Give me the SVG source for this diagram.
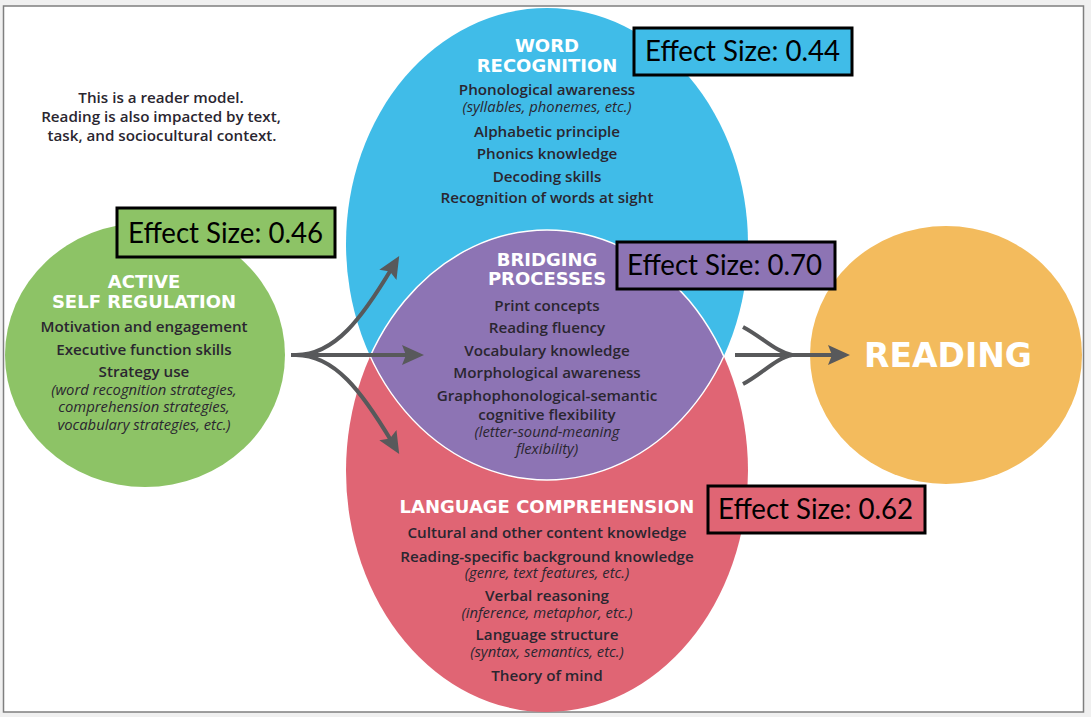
<svg xmlns="http://www.w3.org/2000/svg" width="1091" height="717" viewBox="0 0 1091 717">
  <style>
    .hd { font-family: "DejaVu Sans", "Liberation Sans", sans-serif; font-weight: 700; font-size: 18px; fill: #ffffff; text-anchor: middle; }
    .big { font-size: 33px; }
    .bd { font-family: "Open Sans", "Liberation Sans", sans-serif; font-weight: 600; font-size: 15.2px; fill: #2a2630; text-anchor: middle; }
    .it { font-family: "Open Sans", "Liberation Sans", sans-serif; font-style: italic; font-size: 14.8px; fill: #2a2630; text-anchor: middle; }
    .es { font-family: Lato, "Liberation Sans", sans-serif; font-size: 28px; fill: #000000; }
    .box { stroke: #000000; stroke-width: 3; }
    .arr { fill: none; stroke: #58595b; stroke-width: 4; }
  </style>
  <defs>
    <clipPath id="clipBlue"><ellipse cx="547" cy="244" rx="201" ry="236"/></clipPath>
    <clipPath id="clipRed"><ellipse cx="547" cy="471" rx="201" ry="241"/></clipPath>
    <marker id="ah" markerUnits="userSpaceOnUse" markerWidth="26" markerHeight="22" refX="8" refY="10" orient="auto">
      <path d="M0,0 L22,10 L0,20 L4,10 z" fill="#58595b"/>
    </marker>
  </defs>

  <rect x="0" y="0" width="1091" height="717" fill="#f0f0f0"/>
  <rect x="3.5" y="6" width="1080" height="706" fill="#ffffff" stroke="#7f7f7f" stroke-width="1.5"/>

  <g id="note">
    <text class="bd" x="161" y="103">This is a reader model.</text>
    <text class="bd" x="161" y="122">Reading is also impacted by text,</text>
    <text class="bd" x="162" y="141">task, and sociocultural context.</text>
  </g>

  <g id="word-recognition">
    <ellipse cx="547" cy="244" rx="201" ry="236" fill="#40bce8"/>
  </g>
  <g id="language-comprehension">
    <ellipse cx="547" cy="471" rx="201" ry="241" fill="#e06574"/>
  </g>
  <g id="bridging-processes">
    <g clip-path="url(#clipBlue)">
      <ellipse cx="547" cy="471" rx="201" ry="241" fill="#8d74b4" stroke="#ffffff" stroke-width="1.5"/>
    </g>
    <g clip-path="url(#clipRed)">
      <ellipse cx="547" cy="244" rx="201" ry="236" fill="none" stroke="#ffffff" stroke-width="1.5"/>
    </g>
  </g>

  <g id="word-recognition-text">
    <text class="hd" x="547" y="52">WORD</text>
    <text class="hd" x="547" y="72">RECOGNITION</text>
    <text class="bd" x="547" y="95">Phonological awareness</text>
    <text class="it" x="547" y="112">(syllables, phonemes, etc.)</text>
    <text class="bd" x="547" y="137">Alphabetic principle</text>
    <text class="bd" x="547" y="159">Phonics knowledge</text>
    <text class="bd" x="547" y="182">Decoding skills</text>
    <text class="bd" x="547" y="203">Recognition of words at sight</text>
  </g>

  <g id="bridging-text">
    <text class="hd" x="547" y="266">BRIDGING</text>
    <text class="hd" x="547" y="285">PROCESSES</text>
    <text class="bd" x="547" y="311">Print concepts</text>
    <text class="bd" x="547" y="333">Reading fluency</text>
    <text class="bd" x="547" y="356">Vocabulary knowledge</text>
    <text class="bd" x="547" y="378">Morphological awareness</text>
    <text class="bd" x="547" y="401">Graphophonological-semantic</text>
    <text class="bd" x="547" y="420">cognitive flexibility</text>
    <text class="it" x="547" y="437">(letter-sound-meaning</text>
    <text class="it" x="547" y="454">flexibility)</text>
  </g>

  <g id="language-comprehension-text">
    <text class="hd" x="547" y="513">LANGUAGE COMPREHENSION</text>
    <text class="bd" x="547" y="538">Cultural and other content knowledge</text>
    <text class="bd" x="547" y="562">Reading-specific background knowledge</text>
    <text class="it" x="547" y="578">(genre, text features, etc.)</text>
    <text class="bd" x="547" y="601">Verbal reasoning</text>
    <text class="it" x="547" y="618">(inference, metaphor, etc.)</text>
    <text class="bd" x="547" y="640">Language structure</text>
    <text class="it" x="547" y="657">(syntax, semantics, etc.)</text>
    <text class="bd" x="547" y="681">Theory of mind</text>
  </g>

  <g id="active-self-regulation">
    <ellipse cx="145" cy="355" rx="140" ry="132" fill="#8dc366"/>
    <text class="hd" x="144" y="288">ACTIVE</text>
    <text class="hd" x="144" y="308">SELF REGULATION</text>
    <text class="bd" x="144" y="332">Motivation and engagement</text>
    <text class="bd" x="144" y="355">Executive function skills</text>
    <text class="bd" x="144" y="377">Strategy use</text>
    <text class="it" x="144" y="395">(word recognition strategies,</text>
    <text class="it" x="144" y="412">comprehension strategies,</text>
    <text class="it" x="144" y="430">vocabulary strategies, etc.)</text>
  </g>

  <g id="reading">
    <ellipse cx="946" cy="355" rx="136" ry="129" fill="#f3bb5d"/>
    <text class="hd big" x="948" y="367">READING</text>
  </g>

  <g id="connectors">
    <path class="arr" d="M291 355 L410 355" marker-end="url(#ah)"/>
    <path class="arr" d="M296 355 C335 355 362 318 392 268" marker-end="url(#ah)"/>
    <path class="arr" d="M296 355 C335 355 362 392 392 442" marker-end="url(#ah)"/>
    <path class="arr" d="M735 355 L836 355" marker-end="url(#ah)"/>
    <path class="arr" d="M743 327 C762 337 776 352 792 355"/>
    <path class="arr" d="M743 384 C762 374 776 358 792 355"/>
  </g>

  <g id="effect-044">
    <rect class="box" x="634" y="28" width="218" height="47" fill="#40bce8"/>
    <text class="es" x="645" y="61" textLength="195" lengthAdjust="spacingAndGlyphs">Effect Size: 0.44</text>
  </g>
  <g id="effect-046">
    <rect class="box" x="117" y="208" width="218" height="49" fill="#8dc366"/>
    <text class="es" x="128" y="243" textLength="195" lengthAdjust="spacingAndGlyphs">Effect Size: 0.46</text>
  </g>
  <g id="effect-070">
    <rect class="box" x="617" y="242" width="218" height="47" fill="#8d74b4"/>
    <text class="es" x="627" y="275" textLength="195" lengthAdjust="spacingAndGlyphs">Effect Size: 0.70</text>
  </g>
  <g id="effect-062">
    <rect class="box" x="708" y="486" width="217" height="47" fill="#e06574"/>
    <text class="es" x="718" y="519" textLength="195" lengthAdjust="spacingAndGlyphs">Effect Size: 0.62</text>
  </g>
</svg>
